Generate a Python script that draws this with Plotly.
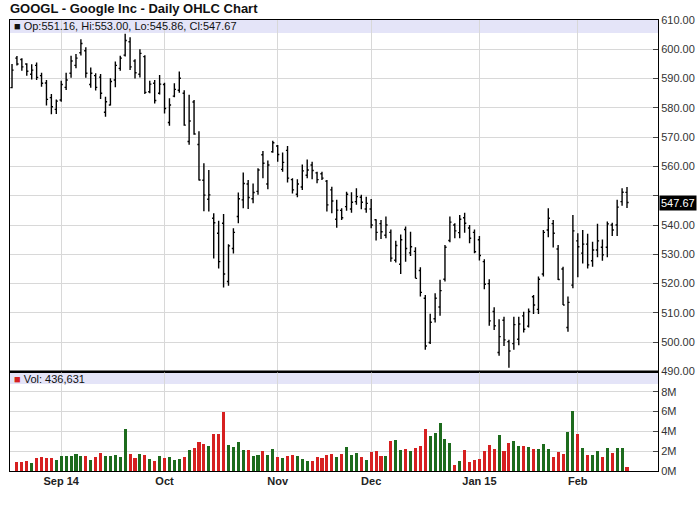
import pandas as pd
import plotly.graph_objects as go
from plotly.subplots import make_subplots

# ---------------- data ----------------
holidays = ['2014-09-01', '2014-11-27', '2014-12-25', '2015-01-01', '2015-01-19', '2015-02-16']
dates = [d.strftime('%Y-%m-%d') for d in
         pd.bdate_range('2014-08-18', '2015-02-17', freq='C', holidays=holidays)]

opens = [586.9, 597.0, 596.5, 595.0, 591.5, 594.5, 591.0, 588.5, 583.5, 579.5,
         582.7, 587.0, 591.8, 594.5, 598.8, 599.5, 588.0, 591.0, 590.5, 578.5,
         581.0, 589.5, 593.5, 598.0, 602.6, 596.0, 591.5, 597.5, 585.5, 588.4,
         585.0, 588.0, 575.0, 584.0, 586.0, 585.0, 568.5, 582.0, 567.5, 555.3,
         548.8, 542.3, 537.2, 540.6, 520.7, 532.0, 542.9, 548.6, 554.0, 549.0,
         551.5, 564.0, 554.0, 565.0, 567.0, 559.0, 565.5, 555.5, 550.5, 553.0,
         557.0, 560.5, 557.8, 557.5, 555.0, 552.0, 542.0, 545.0, 546.3, 545.5,
         548.0, 549.5, 545.5, 545.5, 541.8, 540.5, 536.5, 537.5, 528.0, 526.6,
         538.5, 530.5, 531.0, 524.5, 515.0, 499.9, 508.0, 512.0, 521.5, 534.7,
         540.0, 537.4, 542.5, 539.0, 537.5, 535.0, 527.5, 520.0, 510.5, 496.5,
         507.5, 500.2, 499.5, 501.0, 509.0, 505.5, 515.5, 511.2, 523.3, 538.3,
         540.5, 531.8, 525.0, 505.0, 519.5, 534.6, 530.4, 533.5, 527.8, 531.5,
         532.4, 532.4, 540.0, 540.0, 548.0, 551.16]
highs = [595.0, 597.7, 596.9, 595.2, 594.9, 595.5, 592.0, 589.5, 584.7, 582.9,
         589.3, 592.0, 597.8, 598.4, 603.4, 600.7, 593.8, 591.8, 591.6, 583.8,
         590.1, 595.8, 597.8, 605.3, 604.1, 596.6, 600.0, 598.0, 589.3, 589.5,
         591.2, 588.6, 583.3, 588.4, 592.4, 586.0, 584.5, 582.7, 572.0, 561.1,
         558.8, 544.0, 541.5, 543.8, 533.4, 538.9, 551.1, 557.9, 555.4, 554.2,
         559.4, 565.3, 562.0, 568.8, 567.3, 564.8, 567.0, 556.0, 555.6, 560.7,
         562.4, 561.6, 558.2, 558.2, 555.4, 553.1, 548.6, 545.7, 551.4, 551.2,
         552.6, 550.3, 549.7, 548.9, 542.0, 541.7, 542.9, 538.5, 534.6, 536.8,
         539.5, 537.7, 532.4, 525.6, 516.1, 509.7, 516.7, 521.3, 533.2, 542.9,
         540.6, 543.4, 544.2, 540.0, 538.5, 536.3, 528.3, 521.5, 511.9, 507.8,
         508.7, 500.8, 508.7, 508.7, 510.4, 511.5, 516.1, 522.4, 538.3, 545.7,
         541.7, 533.2, 525.8, 515.6, 543.4, 537.2, 538.3, 537.0, 534.3, 540.4,
         535.1, 541.2, 540.8, 548.6, 552.6, 553.00]
lows = [586.7, 594.5, 592.7, 591.0, 589.7, 589.5, 587.2, 580.8, 577.8, 577.9,
        582.1, 586.1, 590.3, 593.5, 597.9, 590.3, 586.9, 585.9, 583.0, 577.0,
        580.8, 587.0, 592.7, 597.5, 592.9, 590.0, 590.4, 584.7, 585.0, 581.5,
        584.6, 578.1, 573.9, 583.6, 585.2, 573.9, 567.4, 570.8, 555.2, 544.7,
        544.6, 528.6, 525.2, 518.7, 519.3, 530.3, 540.6, 545.7, 545.5, 547.4,
        550.3, 556.0, 552.2, 564.7, 561.6, 558.2, 554.5, 550.8, 549.5, 552.0,
        556.0, 555.6, 554.3, 555.4, 544.6, 544.0, 539.1, 541.7, 544.9, 544.2,
        546.9, 545.4, 544.2, 538.9, 534.7, 535.2, 535.5, 527.5, 527.2, 523.3,
        527.5, 529.4, 521.8, 515.6, 497.4, 499.4, 506.7, 509.0, 520.7, 534.1,
        535.5, 535.5, 537.4, 533.8, 530.4, 527.9, 518.1, 505.6, 504.2, 495.4,
        498.7, 491.3, 497.4, 499.0, 503.3, 505.0, 509.6, 509.6, 522.4, 535.8,
        532.3, 521.2, 512.7, 503.6, 518.4, 522.2, 526.9, 525.2, 525.8, 529.0,
        527.8, 529.0, 536.3, 536.3, 546.6, 545.86]
closes = [592.9, 595.0, 594.0, 592.5, 592.9, 590.4, 588.4, 582.9, 580.4, 582.3,
          588.0, 589.5, 596.0, 597.0, 602.0, 591.8, 591.8, 587.0, 585.0, 582.1,
          589.0, 594.5, 597.0, 603.0, 594.0, 592.0, 598.6, 585.3, 588.1, 582.5,
          588.1, 579.8, 581.0, 586.3, 590.1, 574.1, 575.5, 571.1, 555.4, 550.2,
          550.3, 540.8, 527.5, 523.3, 532.9, 537.5, 549.0, 554.2, 549.4, 551.1,
          558.8, 561.1, 560.5, 568.1, 564.1, 561.4, 556.0, 552.0, 554.0, 558.5,
          558.8, 558.6, 555.5, 556.0, 546.9, 548.2, 545.1, 542.5, 550.5, 547.8,
          549.7, 547.8, 547.4, 540.0, 537.5, 537.7, 540.0, 528.7, 533.0, 535.0,
          532.0, 532.6, 521.8, 517.0, 498.7, 506.8, 515.0, 517.6, 532.4, 541.0,
          538.0, 542.0, 540.6, 535.5, 530.9, 529.6, 519.8, 507.3, 505.6, 501.9,
          500.8, 497.0, 506.0, 506.2, 504.4, 510.5, 512.7, 521.5, 537.5, 542.3,
          537.2, 521.4, 512.7, 513.6, 538.0, 532.6, 533.5, 526.4, 531.5, 534.6,
          529.8, 540.4, 538.3, 546.1, 551.2, 547.67]
# first session shows no volume bar in the chart
volumes_m = [None, 1.0, 1.0, 1.1, 0.9, 1.35, 1.5, 1.4, 1.4, 1.2,
             1.6, 1.6, 1.6, 1.8, 1.6, 1.6, 1.2, 1.5, 1.9, 1.6,
             1.6, 1.7, 1.5, 4.25, 1.8, 1.4, 1.8, 1.7, 1.3, 1.1,
             1.6, 1.4, 1.5, 1.2, 1.3, 1.5, 2.2, 2.4, 3.0, 2.8,
             2.6, 3.8, 3.8, 6.0, 2.7, 2.5, 3.0, 2.2, 2.2, 1.6,
             1.7, 2.1, 1.7, 2.3, 1.5, 1.4, 1.6, 1.7, 1.6, 1.3,
             1.1, 1.1, 1.5, 1.4, 1.7, 1.8, 1.5, 1.8, 2.5, 1.7,
             1.9, 1.5, 1.2, 2.0, 2.1, 1.6, 1.6, 3.1, 3.2, 2.2,
             2.3, 2.1, 2.4, 2.6, 4.3, 3.6, 3.9, 4.9, 3.3, 2.9,
             0.7, 1.1, 2.2, 1.0, 1.2, 1.3, 2.1, 2.7, 2.3, 3.7,
             2.1, 2.9, 3.1, 2.6, 2.6, 2.5, 2.3, 2.3, 2.8, 2.3,
             1.5, 2.0, 1.8, 4.0, 6.1, 3.8, 2.4, 1.7, 1.7, 2.1,
             1.5, 2.4, 1.9, 2.4, 2.4, 0.436631]

month_labels = ['Sep 14', 'Oct', 'Nov', 'Dec', 'Jan 15', 'Feb']
price_ticks = list(range(490, 611, 10))
vol_ticks_m = [0, 2, 4, 6, 8]

title_text = 'GOOGL - Google Inc - Daily OHLC Chart'
last = dict(op=opens[-1], hi=highs[-1], lo=lows[-1], cl=closes[-1], vol=volumes_m[-1])

# ---------------- derived ----------------
volumes = [None if v is None else v * 1e6 for v in volumes_m]
vol_colors = ['#1d6b1d' if c >= o else '#d62020' for o, c in zip(opens, closes)]
month_starts = []
seen = set()
for d in dates:
    ym = d[:7]
    if ym not in seen:
        seen.add(ym)
        month_starts.append(d)
month_starts = month_starts[1:]

# the price tick hidden behind the last-price box
price_labels = ['' if abs(t - last['cl']) < 5 else '%.2f' % t for t in price_ticks]

W, H = 700, 512
ML, MR, MT, MB = 10, 42, 20, 41
PW, PH = W - ML - MR, H - MT - MB
split = (471 - 371.5) / PH


def px(xp):
    return (xp - ML) / PW


def py(yp):
    return (H - MB - yp) / PH


FONT = 'Liberation Sans, Arial, sans-serif'

fig = make_subplots(rows=2, cols=1, shared_xaxes=True, vertical_spacing=0)

fig.add_trace(go.Ohlc(
    x=dates, open=opens, high=highs, low=lows, close=closes,
    increasing=dict(line=dict(color='black', width=1.4)),
    decreasing=dict(line=dict(color='black', width=1.4)),
    tickwidth=0.33, showlegend=False, hoverinfo='skip'), row=1, col=1)

fig.add_trace(go.Bar(
    x=dates, y=volumes, marker=dict(color=vol_colors, line=dict(width=0)),
    width=0.62, showlegend=False, hoverinfo='skip'), row=2, col=1)

xr = [-0.41, 131.3]
grid = '#d8d8d8'
common_x = dict(type='category', range=xr, tickmode='array', tickvals=month_starts,
                showgrid=True, gridcolor=grid, gridwidth=1, showline=True,
                linecolor='black', linewidth=1, mirror=True, ticks='', zeroline=False,
                automargin=False, rangeslider=dict(visible=False))
common_y = dict(side='right', tickmode='array', showgrid=True, gridcolor=grid, gridwidth=1,
                showline=True, linecolor='black', linewidth=1, mirror=True,
                ticks='inside', ticklen=5, tickcolor='#444', zeroline=False,
                automargin=False, tickfont=dict(family=FONT, size=11, color='#333'))
fig.update_layout(
    xaxis=dict(common_x, showticklabels=False),
    xaxis2=dict(common_x, ticktext=['<b>%s</b>' % m for m in month_labels],
                showticklabels=True, tickfont=dict(family=FONT, size=11, color='#222')),
    yaxis=dict(common_y, domain=[split, 1], range=[490, 610],
               tickvals=price_ticks, ticktext=price_labels),
    yaxis2=dict(common_y, domain=[0, split], range=[0, 10.05e6],
                tickvals=[t * 1e6 for t in vol_ticks_m],
                ticktext=['%dM' % t for t in vol_ticks_m]),
    width=W, height=H, margin=dict(l=ML, r=MR, t=MT, b=MB, autoexpand=False),
    paper_bgcolor='white', plot_bgcolor='white', bargap=0, showlegend=False,
)

shapes = [
    dict(type='rect', xref='paper', yref='paper', x0=0, x1=1, y0=py(33), y1=py(20),
         fillcolor='#e4e4f8', line=dict(width=0), layer='below'),
    dict(type='rect', xref='paper', yref='paper', x0=0, x1=1, y0=py(384), y1=py(372.5),
         fillcolor='#e4e4f8', line=dict(width=0), layer='below'),
    dict(type='line', xref='paper', yref='paper', x0=0, x1=1, y0=split, y1=split,
         line=dict(color='black', width=2.2)),
]
fig.update_layout(shapes=shapes)

ann = [
    dict(text='<b>%s</b>' % title_text, x=px(8), y=py(9), xref='paper', yref='paper',
         xanchor='left', yanchor='middle', showarrow=False,
         font=dict(family=FONT, size=13, color='#111')),
    dict(text='■ Op:%.2f, Hi:%.2f, Lo:%.2f, Cl:%.2f' % (last['op'], last['hi'], last['lo'], last['cl']),
         x=px(12), y=py(26.5), xref='paper', yref='paper', xanchor='left', yanchor='middle',
         showarrow=False, font=dict(family=FONT, size=11, color='#111')),
    dict(text="<span style='color:#d62020'>■</span> Vol: {:,}".format(int(round(last['vol'] * 1e6))),
         x=px(12), y=py(378.5), xref='paper', yref='paper', xanchor='left', yanchor='middle',
         showarrow=False, font=dict(family=FONT, size=11, color='#111')),
    dict(text='%.2f' % last['cl'], x=px(659), y=last['cl'], xref='paper', yref='y',
         xanchor='left', yanchor='middle', showarrow=False, bgcolor='black',
         borderpad=1, font=dict(family=FONT, size=11, color='white')),
]
fig.update_layout(annotations=ann)

fig.write_html('out.html', config={'displayModeBar': False},
               post_script="document.body.style.margin='0px';document.body.style.overflow='hidden';")
